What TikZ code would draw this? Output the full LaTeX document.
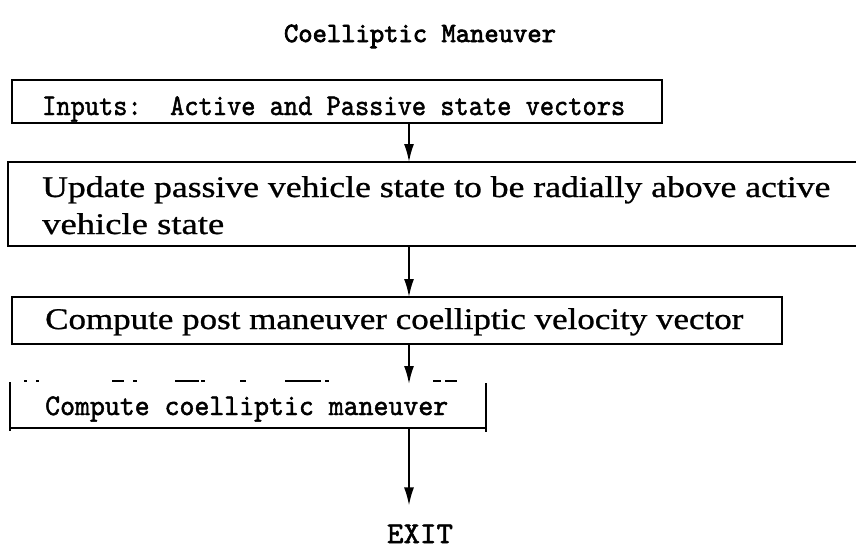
\documentclass[tikz,border=0pt]{standalone}
\usepackage{fontspec}
\setmainfont{Liberation Serif}
\newfontfamily\bodyfont[FakeBold=0.8]{Liberation Serif}
\newfontfamily\typefont[FakeBold=1.6]{lmmono10-regular.otf}
\newfontfamily\headfont[FakeBold=2.6]{lmmono10-regular.otf}
\usetikzlibrary{arrows.meta,calc}

% stretch or squeeze a text horizontally to a given width
\newcommand{\fitto}[2]{\resizebox{#1}{\height}{#2}}

\begin{document}
\begin{tikzpicture}[x=1pt,y=-1pt,
  frame/.style={line width=1.6pt},
  txt/.style={inner sep=0pt,anchor=base west},
  flow/.style={line width=1.8pt,-{Latex[length=18pt,width=10pt]}}]
\useasboundingbox (0,0) rectangle (856,552);

% title
\node[inner sep=0pt,anchor=base] (title) at (420,42)
  {\headfont\fontsize{28}{32}\selectfont\fitto{272pt}{Coelliptic Maneuver}};

% step 1
\node[txt] (t1) at (42,115)
  {\typefont\fontsize{30}{34}\selectfont\fitto{583pt}{Inputs:\ \ Active and Passive state vectors}};
\coordinate (b1nw) at (12,80);
\coordinate (b1se) at (662,123);
\draw[frame] (b1nw) rectangle (b1se);

% step 2 (open on the right)
\node[txt] (t2a) at (42,197)
  {\bodyfont\fontsize{30}{34}\selectfont\fitto{788pt}{Update passive vehicle state to be radially above active}};
\node[txt] (t2b) at (42,234)
  {\bodyfont\fontsize{30}{34}\selectfont\fitto{182pt}{vehicle state}};
\coordinate (b2nw) at (8,162);
\coordinate (b2sw) at (8,246);
\coordinate (b2ne) at (856,162);
\coordinate (b2se) at (856,246);
\draw[frame] (b2ne) -- (b2nw) -- (b2sw) -- (b2se);

% step 3
\node[txt] (t3) at (45,329)
  {\bodyfont\fontsize{30}{34}\selectfont\fitto{698pt}{Compute post maneuver coelliptic velocity vector}};
\coordinate (b3nw) at (12,297);
\coordinate (b3se) at (782,344);
\draw[frame] (b3nw) rectangle (b3se);

% step 4 (its top edge survives only in fragments)
\node[txt] (t4) at (45,415)
  {\typefont\fontsize{30}{34}\selectfont\fitto{403pt}{Compute coelliptic maneuver}};
\coordinate (b4nw) at (10,384);
\coordinate (b4ne) at (486,384);
\coordinate (b4sw) at (10,428);
\coordinate (b4se) at (486,428);
\draw[frame] ($(b4nw)+(0,-2)$) -- ($(b4sw)+(0,3)$);
\draw[frame] (b4sw) -- (b4se);
\draw[frame] ($(b4ne)+(0,-1)$) -- ($(b4se)+(0,4)$);
\foreach \a/\b in {24/27,36/39,112/124,133/137,175/199,201/205,240/246,285/321,325/329,433/441,445/457}
  \draw[line width=1.5pt] (\a,381) -- (\b,381);

% exit
\node[inner sep=0pt,anchor=base] (exit) at (420,543)
  {\typefont\fontsize{30}{34}\selectfont\fitto{66pt}{EXIT}};

% connectors
\coordinate (spine) at (409,0);
\draw[flow] (spine |- b1se) -- (spine |- b2nw);
\draw[flow] (spine |- b2se) -- (spine |- b3nw);
\draw[flow] (spine |- b3se) -- (spine |- b4nw);
\draw[flow] (spine |- b4se) -- ($(exit.north -| spine)+(0,-19)$);
\end{tikzpicture}
\end{document}
